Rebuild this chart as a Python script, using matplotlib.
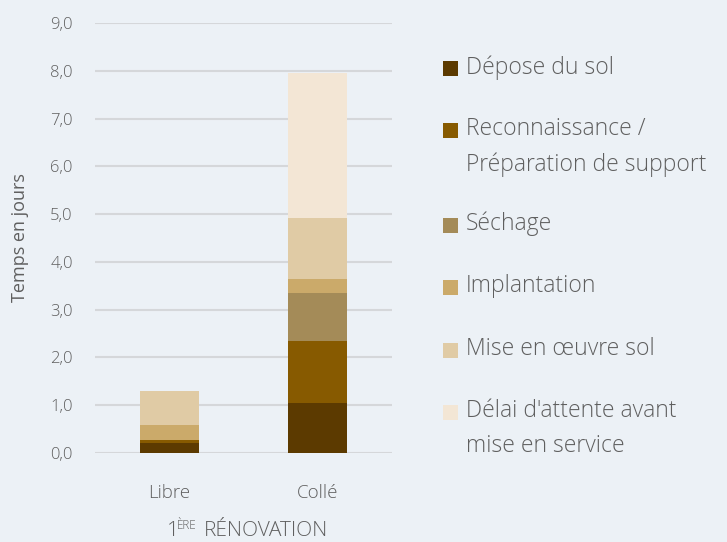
import matplotlib
matplotlib.use("Agg")
import matplotlib.pyplot as plt
from matplotlib.patches import Rectangle

categories = ["Libre", "Collé"]
series_names = ["Dépose du sol", "Reconnaissance /\nPréparation de support", "Séchage",
                "Implantation", "Mise en œuvre sol", "Délai d'attente avant\nmise en service"]
depose = [0.21, 1.05]
reconnaissance = [0.06, 1.29]
sechage = [0.0, 1.01]
implantation = [0.32, 0.29]
mise_en_oeuvre = [0.71, 1.28]
delai = [0.0, 3.03]
yticks = [0, 1, 2, 3, 4, 5, 6, 7, 8, 9]
ytick_labels = ["0,0", "1,0", "2,0", "3,0", "4,0", "5,0", "6,0", "7,0", "8,0", "9,0"]

colors = ["#5C3A00", "#875A00", "#A48B58", "#CBAA6A", "#E0CBA5", "#F3E6D5"]
bg = "#ECF1F6"
txt = "#5F5F5F"

plt.rcParams['font.family'] = ['Open Sans', 'DejaVu Sans']
plt.rcParams['font.weight'] = 'light'

fig = plt.figure(figsize=(7.27, 5.42), dpi=100, facecolor=bg)
ax = fig.add_axes([95 / 727, 89 / 542, 297 / 727, 430 / 542])
ax.set_facecolor(bg)

data = [depose, reconnaissance, sechage, implantation, mise_en_oeuvre, delai]
x = list(range(len(categories)))
bottom = [0.0] * len(categories)
for vals, col in zip(data, colors):
    ax.bar(x, vals, width=0.4, bottom=bottom, color=col, zorder=3)
    bottom = [b + v for b, v in zip(bottom, vals)]

ax.set_xlim(-0.5, 1.5)
ax.set_ylim(0, 9)
ax.set_yticks(yticks)
ax.set_yticklabels(ytick_labels)
ax.set_xticks(x)
ax.set_xticklabels(categories)
ax.grid(axis="y", color="#D5D7DA", linewidth=1.5, zorder=0)
for s in ax.spines.values():
    s.set_visible(False)
ax.tick_params(axis="y", length=0, pad=16, labelsize=12, labelcolor=txt)
ax.tick_params(axis="x", length=0, pad=22, labelsize=13.5, labelcolor=txt)
ax.set_ylabel("Temps en jours", fontsize=13, color=txt, labelpad=15)

# x axis title with superscript, built from three pieces
fig.text(167 / 727, 6 / 542, "1", fontsize=15, color=txt, ha="left", va="baseline")
fig.text(177 / 727, 13 / 542, "ÈRE", fontsize=8.5, color=txt, ha="left", va="baseline")
fig.text(204 / 727, 6 / 542, "RÉNOVATION", fontsize=15, color=txt, ha="left", va="baseline")

# legend drawn by hand so the square sits on the first line
leg_y = [68, 130, 225, 287, 350, 412]
for name, col, yy in zip(series_names, colors, leg_y):
    fy = 1 - yy / 542
    fig.add_artist(Rectangle((443 / 727, fy - 8 / 542), 15 / 727, 15 / 542,
                             transform=fig.transFigure, facecolor=col, edgecolor="none"))
    fig.text(466 / 727, fy + 13 / 542, name, fontsize=16.5, color=txt, va="top",
             ha="left", linespacing=1.6)

fig.savefig("out.png", dpi=100, facecolor=bg)
